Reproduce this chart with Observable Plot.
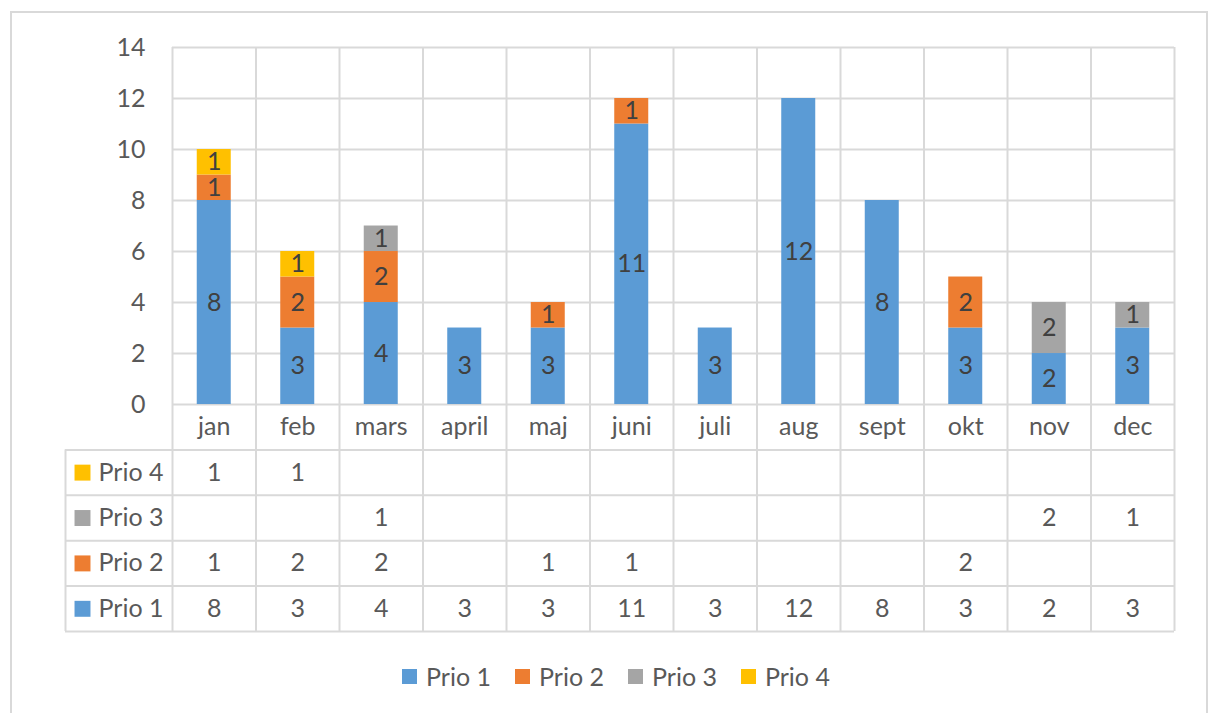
<!DOCTYPE html>
<html><head><meta charset="utf-8">
<script src="https://cdn.jsdelivr.net/npm/d3@7"></script>
<script src="https://cdn.jsdelivr.net/npm/@observablehq/plot@0.6"></script>
<style>
html,body{margin:0;padding:0;background:#fff;}
body{width:1208px;height:713px;position:relative;overflow:hidden;font-family:Lato,"Open Sans",sans-serif;color:#595959;}
#frame{position:absolute;left:10px;top:11px;width:1198px;height:740px;border:2px solid #d9d9d9;box-sizing:border-box;}
#chart{position:absolute;left:0;top:0;}
#legend{position:absolute;left:0;top:661px;width:1232px;height:30px;display:flex;justify-content:center;align-items:center;gap:24px;font-size:25px;}
#legend .item{display:flex;align-items:center;}
#legend .sw{width:15px;height:15px;margin-right:9px;}
</style>
</head><body>
<div id="frame"></div>
<div id="chart"></div>
<div id="legend"></div>
<script>
const months = ["jan","feb","mars","april","maj","juni","juli","aug","sept","okt","nov","dec"];
const seriesNames = ["Prio 1","Prio 2","Prio 3","Prio 4"];
const seriesColors = ["#5B9BD5","#ED7D31","#A5A5A5","#FFC000"];
const prio1 = [8,3,4,3,3,11,3,12,8,3,2,3];
const prio2 = [1,2,2,null,1,1,null,null,null,2,null,null];
const prio3 = [null,null,1,null,null,null,null,null,null,null,2,1];
const prio4 = [1,1,null,null,null,null,null,null,null,null,null,null];
const yTicks = [0,2,4,6,8,10,12,14];
const tableRows = ["Prio 4","Prio 3","Prio 2","Prio 1"]; // top to bottom

const values = [prio1, prio2, prio3, prio4];
const bars = [];
months.forEach((m, i) => {
  let acc = 0;
  values.forEach((vals, s) => {
    const v = vals[i];
    if (v != null) { bars.push({month: m, i, series: seriesNames[s], value: v, y1: acc, y2: acc + v}); acc += v; }
  });
});

const ROW = 1.78;            // table row height (y units)
const yBottom = -ROW * 5;
const HEAD = -1.2814;        // left edge of table header column (x units)
const rowY = r => -ROW * (r + 1.5);

const cells = [];
tableRows.forEach((name, r) => {
  const s = seriesNames.indexOf(name);
  months.forEach((m, i) => { const v = values[s][i]; if (v != null) cells.push({i, y: rowY(r), v}); });
});
const tableLines = [1,2,3,4,5].map(k => -ROW * k);
const grid = "#d9d9d9";

const plot = Plot.plot({
  width: 1208, height: 640,
  marginTop: 47, marginBottom: 9, marginLeft: 65, marginRight: 34,
  x: {domain: [HEAD, 12], axis: null},
  y: {domain: [yBottom, 14], axis: null},
  color: {domain: seriesNames, range: seriesColors},
  style: {fontFamily: "Lato, 'Open Sans', sans-serif", fontSize: "25px", color: "#595959", background: "transparent"},
  marks: [
    Plot.ruleY(yTicks, {x1: 0, x2: 12, stroke: grid, strokeWidth: 2}),
    Plot.ruleY(tableLines, {x1: HEAD, x2: 12, stroke: grid, strokeWidth: 2}),
    Plot.ruleX(d3.range(13), {y1: yBottom, y2: 14, stroke: grid, strokeWidth: 2}),
    Plot.ruleX([HEAD], {y1: yBottom, y2: -ROW, stroke: grid, strokeWidth: 2}),
    Plot.rect(bars, {x1: d => d.i, x2: d => d.i + 1, y1: "y1", y2: "y2", fill: "series", insetLeft: 24.75, insetRight: 24.75}),
    Plot.text(bars, {x: d => d.i + 0.5, y: d => (d.y1 + d.y2) / 2, text: "value", fill: "#404040", fontSize: 25}),
    Plot.text(yTicks, {x: 0, y: d => d, text: d => String(d), textAnchor: "end", dx: -27, fill: "#595959"}),
    Plot.text(months, {x: (d, i) => i + 0.5, y: -ROW / 2, text: d => d, fill: "#595959"}),
    Plot.dot(tableRows, {x: HEAD, y: (d, r) => rowY(r), dx: 17, symbol: "square", r: 9, fill: d => d}),
    Plot.text(tableRows, {x: HEAD, y: (d, r) => rowY(r), dx: 33, text: d => d, textAnchor: "start", fill: "#595959"}),
    Plot.text(cells, {x: d => d.i + 0.5, y: "y", text: "v", fill: "#595959"})
  ]
});
document.getElementById("chart").appendChild(plot);

const legend = document.getElementById("legend");
seriesNames.forEach((n, k) => {
  const it = document.createElement("div"); it.className = "item";
  const sw = document.createElement("div"); sw.className = "sw"; sw.style.background = seriesColors[k];
  const tx = document.createElement("span"); tx.textContent = n;
  it.appendChild(sw); it.appendChild(tx); legend.appendChild(it);
});
</script>
</body></html>
